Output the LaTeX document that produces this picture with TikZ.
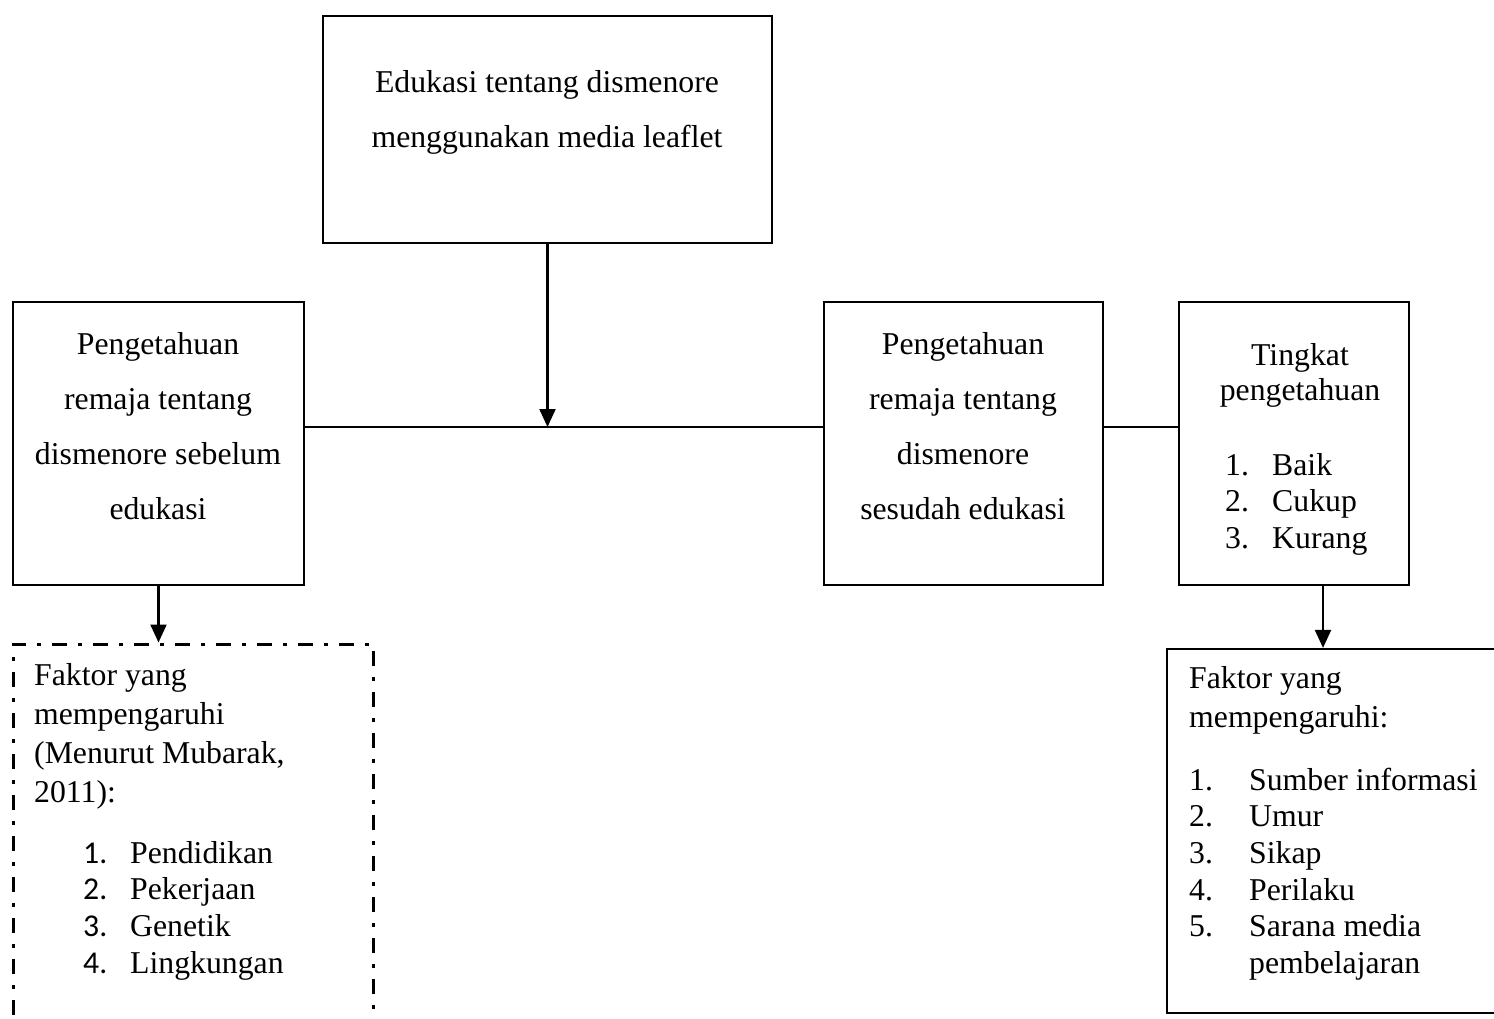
\documentclass[tikz,border=0pt]{standalone}
\usepackage{fontspec}
\setmainfont{Liberation Serif}
\newfontfamily\numfont{Carlito}
\usetikzlibrary{arrows.meta}

\tikzset{
  box/.style={draw, line width=2.2pt, inner sep=0pt},
  dashbox/.style={draw, line width=3pt, inner sep=0pt,
    dash pattern=on 15pt off 11pt on 4pt off 11pt},
  link/.style={line width=2.2pt},
  arr/.style={line width=2.2pt, -{Triangle[length=18pt,width=16pt]}},
  lbl/.style={font=\fontsize{31.75}{36.5}\selectfont, inner sep=0pt, anchor=base},
  item/.style={lbl, anchor=base west}
}

\begin{document}
\begin{tikzpicture}[x=1pt, y=-1pt]
  \useasboundingbox (0,0) rectangle (1494,1019);

  % boxes
  \node[box, minimum width=449pt, minimum height=227pt] (edu) at (547.5,129.5) {};
  \node[box, minimum width=291pt, minimum height=283pt] (pre) at (158.5,443.5) {};
  \node[box, minimum width=279pt, minimum height=283pt] (post) at (963.5,443.5) {};
  \node[box, minimum width=230pt, minimum height=283pt] (lvl) at (1294,443.5) {};
  \node[dashbox, minimum width=360pt, minimum height=400pt] (fakA) at (193,844) {};
  \node[box, minimum width=333pt, minimum height=364pt] (fakB) at (1333.5,831) {};

  % texts
  \foreach \t [count=\i from 0] in {Edukasi tentang dismenore, menggunakan media leaflet}
    \node[lbl] (edu-\i) at (547,{93+55*\i}) {\t};
  \foreach \t [count=\i from 0] in {Pengetahuan, remaja tentang, dismenore sebelum, edukasi}
    \node[lbl] (pre-\i) at (158,{354+55*\i}) {\t};
  \foreach \t [count=\i from 0] in {Pengetahuan, remaja tentang, dismenore, sesudah edukasi}
    \node[lbl] (post-\i) at (963,{354+55*\i}) {\t};

  \node[lbl] (lvl-a) at (1300,365) {Tingkat};
  \node[lbl] (lvl-b) at (1300,400) {pengetahuan};
  \foreach \n/\t [count=\i from 0] in {1./Baik, 2./Cukup, 3./Kurang} {
    \node[item] (lvln-\i) at (1225,{475+36.5*\i}) {\n};
    \node[item] (lvlt-\i) at (1272,{475+36.5*\i}) {\t};
  }

  \foreach \t [count=\i from 0] in {Faktor yang, mempengaruhi, {(Menurut Mubarak,}, {2011):}}
    \node[item] (fa-\i) at (34,{685+39*\i}) {\t};
  \foreach \n/\t [count=\i from 0] in {1./Pendidikan, 2./Pekerjaan, 3./Genetik, 4./Lingkungan} {
    \node[item] (fan-\i) at (83,{863+36.7*\i}) {\numfont\n};
    \node[item] (fat-\i) at (130,{863+36.7*\i}) {\t};
  }

  \node[item] (fb-0) at (1189,688) {Faktor yang};
  \node[item] (fb-1) at (1189,727) {mempengaruhi:};
  \foreach \n/\t [count=\i from 0] in {1./Sumber informasi, 2./Umur, 3./Sikap, 4./Perilaku, 5./Sarana media} {
    \node[item] (fbn-\i) at (1189,{790+36.7*\i}) {\n};
    \node[item] (fbt-\i) at (1249,{790+36.7*\i}) {\t};
  }
  \node[item] (fbt-5) at (1249,973) {pembelajaran};

  % connectors
  \coordinate (mid) at (547.5,427);
  \draw[link] (pre.east |- mid) -- (post.west |- mid);
  \draw[link] (post.east |- mid) -- (lvl.west |- mid);
  \draw[arr] (edu.south) -- (edu.south |- mid);
  \draw[arr] (pre.south) -- (pre.south |- fakA.north);
  \draw[arr] ([xshift=29pt]lvl.south) -- ([xshift=29pt]lvl.south |- fakB.north);
\end{tikzpicture}
\end{document}
